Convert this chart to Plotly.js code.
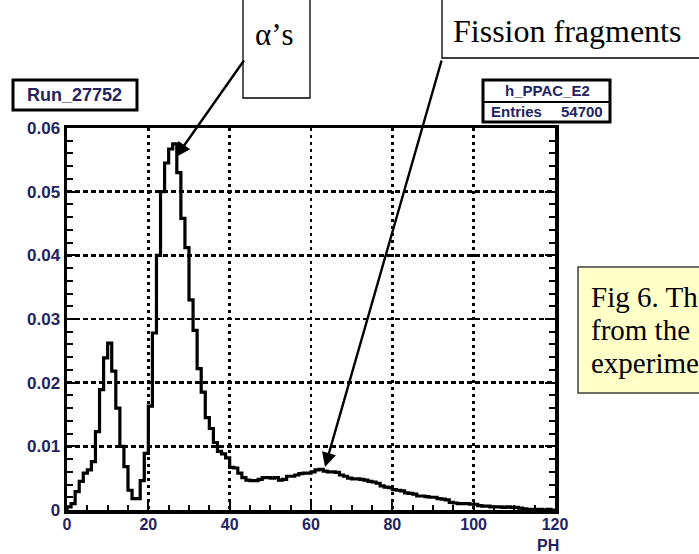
<!DOCTYPE html>
<html>
<head>
<meta charset="utf-8">
<script src="https://cdn.plot.ly/plotly-3.0.1.min.js"></script>
<style>html,body{margin:0;padding:0;background:#fff;overflow:hidden}#chart{width:699px;height:554px}</style>
</head>
<body>
<div id="chart"></div>
<script>
// ---- data ----
const binLow = [0,1,2,3,4,5,6,7,8,9,10,11,12,13,14,15,16,17,18,19,20,21,22,23,24,25,26,27,28,29,30,31,32,33,34,35,36,37,38,39,40,41,42,43,44,45,46,47,48,49,50,51,52,53,54,55,56,57,58,59,60,61,62,63,64,65,66,67,68,69,70,71,72,73,74,75,76,77,78,79,80,81,82,83,84,85,86,87,88,89,90,91,92,93,94,95,96,97,98,99,100,101,102,103,104,105,106,107,108,109,110,111,112,113,114,115,116,117,118,119];
const binContent = [
0.0005,0.0010,0.0029,0.0045,0.0058,0.0063,0.0076,0.0123,0.0189,0.0239,
0.0262,0.0218,0.0160,0.0100,0.0068,0.0031,0.0018,0.0018,0.0046,0.0089,
0.0163,0.0278,0.0400,0.0500,0.0545,0.0567,0.0575,0.0530,0.0458,0.0412,
0.0330,0.0282,0.0222,0.0185,0.0145,0.0128,0.0106,0.0092,0.0088,0.0082,
0.0067,0.0066,0.0058,0.0051,0.0047,0.0046,0.0046,0.0048,0.0051,0.0051,
0.0050,0.0051,0.0047,0.0048,0.0053,0.0053,0.0055,0.0057,0.0058,0.0058,
0.0060,0.0063,0.0064,0.0061,0.0060,0.0060,0.0059,0.0055,0.0053,0.0050,
0.0049,0.0049,0.0048,0.0047,0.0045,0.0044,0.0042,0.0038,0.0036,0.0035,
0.0032,0.0031,0.0030,0.0027,0.0026,0.0025,0.0022,0.0022,0.0021,0.0020,
0.0020,0.0018,0.0017,0.0016,0.0012,0.0011,0.0010,0.0010,0.0010,0.0009,
0.0009,0.0007,0.0006,0.0006,0.0005,0.0005,0.0005,0.0004,0.0005,0.0004,
0.0004,0.0003,0.0002,0.0001,0.0001,0.0001,0.0001,0.0000,0.0001,0.0000];
const xMax = 120;
const xTicks = [0,20,40,60,80,100,120];
const yTicks = [0,0.01,0.02,0.03,0.04,0.05,0.06];
const yTickText = ["0","0.01","0.02","0.03","0.04","0.05","0.06"];
const histName = "h_PPAC_E2";
const entries = "54700";
const runLabel = "Run_27752";
const captionLines = ["Fig 6. Th","from the","experime"];

// step outline built from bins
const xs = [binLow[0]].concat(binLow, [xMax]);
const ys = [0].concat(binContent, [binContent[binContent.length-1]]);

// ---- layout helpers (pixel -> paper) ----
const L = 67, R = 555, T = 128, B = 510;
const P = px => (px - L) / (R - L);
const Q = py => (B - py) / (B - T);

const ink = '#23235f';
const sansB = {family: 'Liberation Sans, Arial, sans-serif', size: 17, color: ink, weight: 'bold'};
const serif = {family: 'Liberation Serif, Times New Roman, serif', size: 31, color: '#000'};

function rect(x0,y0,x1,y1,w,fill,col){
  return {type:'rect', xref:'paper', yref:'paper', x0:P(x0), x1:P(x1), y0:Q(y1), y1:Q(y0),
    line:{color:col||'#000', width:w}, fillcolor:fill||'#fff', layer:'above'};
}
function text(t,x,y,font,anchor){
  return {text:t, xref:'paper', yref:'paper', x:P(x), y:Q(y), xanchor:anchor||'center', yanchor:'middle',
    showarrow:false, font:font};
}

const shapes = [
  rect(13,80,137,110,3),
  rect(483,80,610,122,3),
  {type:'line', xref:'paper', yref:'paper', x0:P(483), x1:P(610), y0:Q(102), y1:Q(102), line:{color:'#000',width:2}, layer:'above'},
  rect(243,-3,310,98,1.3),
  rect(442,-3,710,58,1.3),
  rect(578,267,710,393,1.5,'#ffffc8','#404040')
];

const small = Object.assign({}, sansB, {size: 15});
const cap = Object.assign({}, serif, {size: 29});
const annotations = [
  text(runLabel,74,95,Object.assign({}, sansB, {size: 18})),
  text(histName,547,91,small),
  text('Entries',489,111,small,'left'),
  text(entries,605,111,small,'right'),
  text('α’s',274,34.5,serif),
  text('Fission fragments',451,31.5,Object.assign({},serif,{size:32}),'left'),
  text(captionLines[0],589,297,cap,'left'),
  text(captionLines[1],589,330,cap,'left'),
  text(captionLines[2],589,363,cap,'left'),
  text('PH',561,545,Object.assign({}, sansB, {size: 16}),'right'),
  {text:'', xref:'paper', yref:'paper', x:P(176), y:Q(157), ax:245-176, ay:59-157, axref:'pixel', ayref:'pixel',
    showarrow:true, arrowhead:2, arrowsize:1.2, arrowwidth:2.4, arrowcolor:'#000', standoff:0},
  {text:'', xref:'paper', yref:'paper', x:P(325), y:Q(467), ax:442-325, ay:59-467, axref:'pixel', ayref:'pixel',
    showarrow:true, arrowhead:2, arrowsize:1.2, arrowwidth:2.4, arrowcolor:'#000', standoff:0}
];

const trace = {
  x: xs, y: ys, type: 'scatter', mode: 'lines',
  line: {shape: 'hv', color: '#000', width: 3.2},
  hoverinfo: 'skip', showlegend: false
};

const layout = {
  width: 699, height: 554,
  margin: {l: L, r: 699 - R, t: T, b: 554 - B, pad: 0},
  paper_bgcolor: '#fff', plot_bgcolor: '#fff',
  showlegend: false,
  xaxis: {
    range: [0, xMax], tickvals: xTicks, ticktext: xTicks.map(String),
    showline: true, linewidth: 3.5, linecolor: '#000', mirror: true,
    ticks: 'inside', ticklen: 10, tickwidth: 2, tickcolor: '#000',
    minor: {dtick: 5, ticks: 'inside', ticklen: 5, tickwidth: 2, tickcolor: '#000', showgrid: false},
    showgrid: true, gridcolor: '#000', gridwidth: 2.5, griddash: '3px,4px',
    zeroline: false, tickfont: Object.assign({}, sansB, {size: 16}), ticklabelstandoff: -3, fixedrange: true
  },
  yaxis: {
    range: [0, 0.06], tickvals: yTicks, ticktext: yTickText,
    showline: true, linewidth: 3.5, linecolor: '#000', mirror: 'ticks',
    ticks: 'inside', ticklen: 10, tickwidth: 2, tickcolor: '#000',
    minor: {dtick: 0.002, ticks: 'inside', ticklen: 6, tickwidth: 2, tickcolor: '#000', showgrid: false},
    showgrid: true, gridcolor: '#000', gridwidth: 2.5, griddash: '5px,3px',
    zeroline: false, tickfont: sansB, fixedrange: true
  },
  shapes: shapes,
  annotations: annotations
};

Plotly.newPlot('chart', [trace], layout, {displayModeBar: false, staticPlot: true});
</script>
</body>
</html>
